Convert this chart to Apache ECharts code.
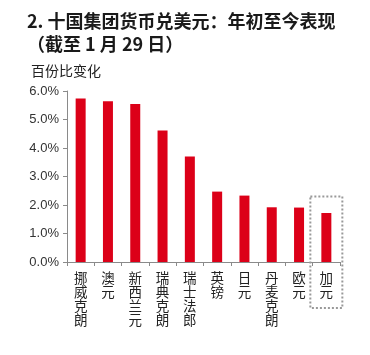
<!DOCTYPE html>
<html><head><meta charset="utf-8">
<script src="https://cdn.jsdelivr.net/npm/echarts@6/dist/echarts.min.js"></script>
<style>html,body{margin:0;padding:0;background:#fff}#c{width:370px;height:355px}</style>
</head><body><div id="c"></div>
<script>
const categories = ['挪威克朗','澳元','新西兰元','瑞典克朗','瑞士法郎','英镑','日元','丹麦克朗','欧元','加元'];
const values = [5.74, 5.64, 5.54, 4.61, 3.70, 2.47, 2.33, 1.92, 1.91, 1.72];
const yTicks = [0, 1, 2, 3, 4, 5, 6];
const highlighted = '加元';

const chart = echarts.init(document.getElementById('c'), null, {renderer:'canvas'});
const cjk = '"Noto Sans CJK SC", "Liberation Sans", sans-serif';
const option = {
  animation: false,
  grid: {left: 67, right: 30, top: 91, bottom: 93},
  title: [
    {text: '2. 十国集团货币兑美元：年初至今表现\n（截至 1 月 29 日）', left: 22, top: 5,
     textStyle: {fontFamily: cjk, fontSize: 18, fontWeight: 'bold', color: '#1a1a1a', lineHeight: 23}},
    {text: '百份比变化', left: 26, top: 59,
     textStyle: {fontFamily: cjk, fontSize: 14, fontWeight: 'normal', color: '#222'}}
  ],
  xAxis: {
    type: 'category', data: categories,
    axisLine: {lineStyle: {color: '#8a8a8a', width: 1}},
    axisTick: {show: true, length: 4, lineStyle: {color: '#8a8a8a'}},
    axisLabel: {interval: 0, margin: 9, fontFamily: cjk, fontSize: 13.5, color: '#222', lineHeight: 14,
      formatter: v => v.split('').join('\n'), verticalAlign: 'top'}
  },
  yAxis: {
    type: 'value', min: yTicks[0], max: yTicks[yTicks.length-1], interval: 1,
    splitLine: {show: false},
    axisLine: {show: true, lineStyle: {color: '#8a8a8a', width: 1}},
    axisTick: {show: true, length: 4, lineStyle: {color: '#8a8a8a'}},
    axisLabel: {fontFamily: '"Liberation Sans Narrow", "Liberation Sans", sans-serif', fontSize: 13, color: '#333', margin: 8,
      formatter: v => v.toFixed(1) + '%'}
  },
  series: [{
    type: 'bar', data: values, barWidth: 10,
    itemStyle: {color: '#DC0018'}
  }]
};
chart.setOption(option);
const idx = categories.indexOf(highlighted);
const cx = chart.convertToPixel({xAxisIndex: 0}, idx);
const topY = chart.convertToPixel({yAxisIndex: 0}, values[idx] + 0.58);
chart.setOption({graphic: [{
  type: 'rect', shape: {x: cx - 16, y: topY, width: 32, height: 308 - topY},
  style: {fill: 'none', stroke: '#999', lineWidth: 2, lineDash: [2, 2]}, z: 10
}]});
</script></body></html>
